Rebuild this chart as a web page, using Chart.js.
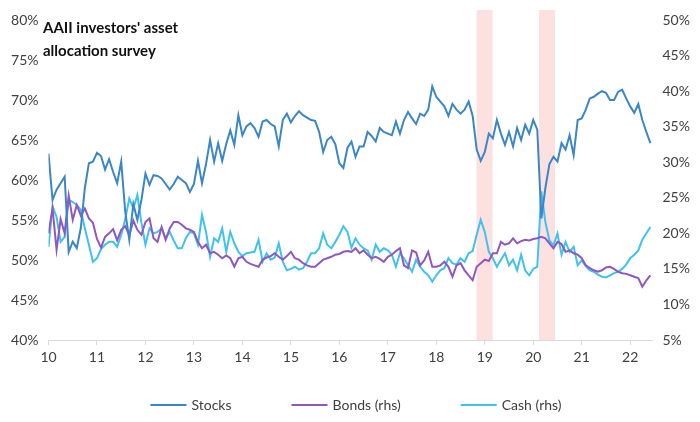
<!DOCTYPE html>
<html>
<head>
<meta charset="utf-8">
<script src="https://cdn.jsdelivr.net/npm/chart.js@4"></script>
<style>
  html, body { margin: 0; padding: 0; background: #fff; }
  #wrap { width: 700px; height: 422px; position: relative; }
</style>
</head>
<body>
<div id="wrap"><canvas id="chart"></canvas></div>
<script>
// monthly survey readings, Jan 2010 .. Jun 2022 (x = year - 2000)
const firstYear = 10;
const yearTicks = [10, 11, 12, 13, 14, 15, 16, 17, 18, 19, 20, 21, 22];
const titleLines = ['AAII investors\' asset', 'allocation survey'];

const stocks = [
  63.3, 57.5, 58.8, 59.6, 60.4, 51.0, 52.3, 51.5, 54.0, 59.0, 62.1, 62.3,
  63.4, 63.0, 61.3, 62.6, 61.0, 59.6, 62.3, 56.0, 52.5, 57.0, 55.0, 57.5,
  60.8, 59.4, 60.6, 60.5, 60.2, 59.5, 58.8, 59.5, 60.4, 60.0, 59.6, 58.5,
  59.5, 62.4, 59.6, 62.0, 65.0, 62.3, 64.6, 62.4, 64.5, 66.2, 64.4, 68.1,
  65.6, 66.7, 67.1, 66.5, 65.4, 67.3, 67.5, 67.0, 66.7, 64.2, 67.5, 68.3,
  67.2, 68.0, 68.6, 68.1, 67.8, 67.5, 67.4, 66.0, 63.5, 65.0, 65.4, 64.5,
  62.1, 61.5, 64.0, 64.8, 62.9, 64.2, 64.2, 66.0, 65.5, 64.8, 66.5, 66.0,
  65.8, 65.6, 67.3, 65.8, 67.5, 68.5, 67.7, 67.0, 68.3, 68.0, 68.8, 71.7,
  70.4, 69.8, 69.2, 68.0, 69.5, 68.8, 68.3, 68.8, 69.8, 68.0, 63.8, 62.4,
  63.5, 65.8, 65.2, 67.5, 65.8, 64.4, 66.0, 64.2, 66.5, 65.0, 66.9, 65.8,
  67.5, 66.3, 55.2, 59.0, 62.0, 62.9, 62.3, 64.6, 63.8, 65.6, 63.1, 67.5,
  67.7, 68.8, 70.2, 70.4, 70.8, 71.1, 70.9, 70.0, 70.0, 71.0, 71.3, 70.2,
  69.2, 68.4, 69.5, 67.5, 66.0, 64.6
];
const bonds = [
  20.0, 23.5, 17.7, 22.0, 20.0, 25.3, 21.9, 24.0, 22.5, 23.5, 22.1, 21.5,
  19.2, 18.0, 19.5, 20.0, 20.6, 19.0, 20.5, 21.0, 19.7, 21.8, 20.5, 19.8,
  21.6, 22.1, 19.3, 18.8, 20.9, 19.1, 20.7, 21.6, 21.6, 21.2, 20.7, 20.5,
  20.2, 18.8, 17.9, 18.4, 17.2, 17.4, 17.0, 16.5, 16.9, 16.5, 15.3, 16.5,
  16.7, 16.0, 15.7, 15.5, 15.3, 16.3, 16.6, 16.8, 17.2, 16.7, 16.3, 16.8,
  17.4, 16.5, 16.3, 15.8, 15.5, 15.3, 15.3, 15.8, 16.3, 16.5, 16.7, 17.0,
  17.1, 17.4, 17.5, 17.4, 17.9, 17.2, 17.6, 17.0, 16.5, 16.7, 16.4, 16.0,
  16.7, 17.0, 17.5, 17.9, 15.5, 15.1, 17.6, 17.3, 15.5, 16.2, 17.4, 15.3,
  15.3, 15.5, 16.0, 15.3, 13.9, 15.5, 15.8, 14.8, 14.1, 13.4, 15.3, 15.8,
  16.3, 16.1, 17.2, 17.2, 18.8, 18.4, 18.6, 19.3, 18.6, 18.9, 19.1, 19.0,
  19.2, 19.3, 19.5, 19.3, 18.6, 17.9, 18.8, 18.5, 17.4, 17.6, 17.2, 17.0,
  16.5, 15.5, 15.1, 14.8, 14.6, 14.8, 15.2, 15.3, 15.0, 14.6, 14.4, 14.3,
  14.1, 13.9, 13.7, 12.5, 13.4, 14.1
];
const cash = [
  18.1, 23.8, 22.3, 18.8, 19.5, 24.7, 24.4, 24.0, 23.3, 20.7, 18.4, 16.0,
  16.5, 17.8, 18.4, 18.8, 18.8, 18.1, 19.8, 22.0, 24.9, 23.5, 25.4, 21.5,
  18.4, 20.7, 20.0, 20.2, 20.7, 19.3, 20.2, 19.0, 17.9, 17.9, 19.3, 20.2,
  20.0, 18.4, 22.6, 20.2, 16.7, 19.3, 18.8, 20.7, 17.4, 20.2, 18.6, 17.4,
  16.8, 17.2, 17.3, 17.4, 19.1, 16.0, 17.2, 16.3, 16.6, 18.6, 16.0, 14.8,
  15.0, 15.3, 14.9, 15.1, 16.0, 17.2, 17.2, 17.9, 20.0, 18.4, 17.9, 18.8,
  19.8, 21.0, 20.2, 18.0, 19.3, 18.4, 17.9, 17.6, 16.3, 18.4, 17.4, 17.9,
  17.6, 17.0, 15.3, 17.2, 16.5, 15.5, 14.6, 16.3, 15.3, 14.6, 14.1, 13.2,
  14.1, 14.8, 15.1, 16.5, 15.8, 15.6, 16.5, 16.0, 17.2, 17.5, 19.8, 21.9,
  20.2, 17.4, 16.5, 15.3, 16.3, 17.2, 15.5, 16.3, 14.8, 17.0, 14.8, 14.1,
  15.0, 15.3, 25.9, 21.6, 19.0, 18.3, 20.0, 17.0, 18.8, 17.4, 18.1, 15.5,
  16.2, 15.4, 14.8, 14.6, 14.2, 13.9, 13.8, 14.1, 14.4, 14.6, 15.0, 15.6,
  16.5, 17.0, 17.6, 19.1, 20.0, 20.9
];
// shaded periods (year fractions)
const shadedPeriods = [[18.83, 19.16], [20.12, 20.45]];

const toPoints = arr => arr.map((v, i) => ({ x: firstYear + i / 12, y: v }));

const FONT = 'Lato, "Open Sans", sans-serif';
const TEXT = '#404040';
const AXIS = '#d9d9d9';

const shading = {
  id: 'shading',
  beforeDatasetsDraw(chart) {
    const { ctx, chartArea, scales } = chart;
    ctx.save();
    ctx.fillStyle = '#fde1e1';
    shadedPeriods.forEach(([a, b]) => {
      const x0 = scales.x.getPixelForValue(a);
      const x1 = scales.x.getPixelForValue(b);
      ctx.fillRect(x0, chartArea.top - 10, x1 - x0, chartArea.bottom - chartArea.top + 10);
    });
    ctx.restore();
  }
};

const titleText = {
  id: 'titleText',
  afterDraw(chart) {
    const { ctx } = chart;
    ctx.save();
    ctx.font = 'bold 15px ' + FONT;
    ctx.fillStyle = '#111';
    ctx.textBaseline = 'middle';
    ctx.fillText(titleLines[0], 43, 28);
    ctx.fillText(titleLines[1], 43, 51);
    ctx.restore();
  }
};

// legend in the bottom strip: wide spacing like the original
const bottomLegend = {
  id: 'bottomLegend',
  afterDraw(chart) {
    const { ctx } = chart;
    const sample = 36, gapText = 5, gapItem = 60, y = 405;
    ctx.save();
    ctx.font = '14px ' + FONT;
    ctx.textBaseline = 'middle';
    const sets = chart.data.datasets;
    const widths = sets.map(d => sample + gapText + ctx.measureText(d.label).width);
    const total = widths.reduce((a, b) => a + b, 0) + gapItem * (sets.length - 1);
    let x = 356 - total / 2;
    sets.forEach((d, i) => {
      ctx.strokeStyle = d.borderColor;
      ctx.lineWidth = 2;
      ctx.beginPath();
      ctx.moveTo(x, y);
      ctx.lineTo(x + sample, y);
      ctx.stroke();
      ctx.fillStyle = TEXT;
      ctx.fillText(d.label, x + sample + gapText, y);
      x += widths[i] + gapItem;
    });
    ctx.restore();
  }
};

const lineSet = (label, data, color, axis) => ({
  label,
  data: toPoints(data),
  borderColor: color,
  backgroundColor: color,
  borderWidth: 2,
  pointRadius: 0,
  tension: 0,
  yAxisID: axis
});

new Chart(document.getElementById('chart'), {
  type: 'line',
  data: {
    datasets: [
      lineSet('Stocks', stocks, '#3a86c8', 'y'),
      lineSet('Bonds (rhs)', bonds, '#9057c0', 'y1'),
      lineSet('Cash (rhs)', cash, '#3fc2f0', 'y1')
    ]
  },
  options: {
    responsive: true,
    maintainAspectRatio: false,
    animation: false,
    layout: { padding: { top: 20, left: 0, right: 0, bottom: 52 } },
    plugins: {
      legend: { display: false },
      tooltip: { enabled: false }
    },
    scales: {
      x: {
        type: 'linear',
        min: 10,
        max: 22.46,
        afterBuildTicks: scale => { scale.ticks = yearTicks.map(v => ({ value: v })); },
        afterFit: scale => { scale.height = 30; },
        grid: { drawOnChartArea: false, drawTicks: true, tickLength: 5, color: AXIS },
        border: { color: AXIS },
        ticks: { color: TEXT, font: { family: FONT, size: 14 }, padding: 4, maxRotation: 0, autoSkip: false, callback: v => v }
      },
      y: {
        position: 'left',
        min: 40,
        max: 80,
        afterFit: scale => { scale.width = 48.5; },
        grid: { display: false, drawTicks: false },
        border: { display: false },
        ticks: { stepSize: 5, color: TEXT, padding: 10, font: { family: FONT, size: 14 }, callback: v => v + '%' }
      },
      y1: {
        position: 'right',
        min: 5,
        max: 50,
        afterFit: scale => { scale.width = 47.5; },
        grid: { display: false, drawTicks: false },
        border: { display: false },
        ticks: { stepSize: 5, color: TEXT, padding: 10, font: { family: FONT, size: 14 }, callback: v => v + '%' }
      }
    }
  },
  plugins: [shading, titleText, bottomLegend]
});
</script>
</body>
</html>
